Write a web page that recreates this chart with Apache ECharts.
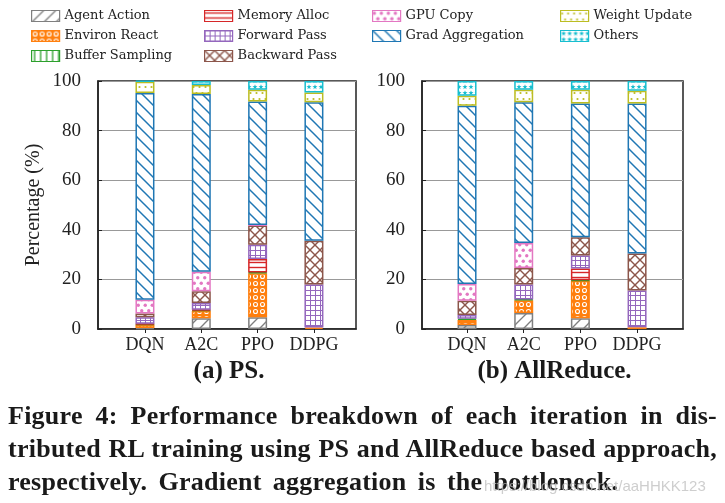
<!DOCTYPE html>
<html><head><meta charset="utf-8">
<script src="https://cdn.jsdelivr.net/npm/echarts@6/dist/echarts.min.js"></script>
<style>
html,body{margin:0;padding:0;background:#fff;}
#chart{width:725px;height:503px;position:absolute;left:0;top:0;}
.cap{position:absolute;left:8px;width:709px;font:bold 26px 'Liberation Serif',serif;letter-spacing:0.25px;color:#1a1a1a;white-space:nowrap;line-height:33px;}
.wm{position:absolute;left:484px;top:477px;font:15px 'Liberation Sans',sans-serif;color:rgba(190,190,190,0.75);white-space:nowrap;}
</style></head><body>
<div id="chart"></div>
<div class="cap" style="top:399px;text-align:justify;text-align-last:justify;">Figure 4: Performance breakdown of each iteration in dis-</div>
<div class="cap" style="top:432px;text-align:justify;text-align-last:justify;">tributed RL training using PS and AllReduce based approach,</div>
<div class="cap" style="top:465px;text-align:left;word-spacing:4.5px;">respectively. Gradient aggregation is the bottleneck.</div>
<div class="wm">https://blog.csdn.net/aaHHKK123</div>
<script>
// ---- data ----
const categories = ['DQN', 'A2C', 'PPO', 'DDPG'];
const seriesNames = ['Agent Action', 'Environ React', 'Buffer Sampling', 'Memory Alloc', 'Forward Pass',
  'Backward Pass', 'GPU Copy', 'Grad Aggregation', 'Weight Update', 'Others'];
const yTicks = [0, 20, 40, 60, 80, 100];
const panelTitles = ['(a) PS.', '(b) AllReduce.'];

// (a) PS — values per category (DQN, A2C, PPO, DDPG), percent
const psAgentAction     = [0.4, 4.3, 4.7, 0];
const psEnvironReact    = [1.3, 3.0, 17.8, 0.6];
const psBufferSampling  = [0.2, 0.3, 0.3, 0];
const psMemoryAlloc     = [0.2, 0.2, 5.4, 0];
const psForwardPass     = [2.6, 2.7, 5.8, 17.3];
const psBackwardPass    = [1.6, 4.7, 7.7, 17.7];
const psGpuCopy         = [5.5, 7.9, 0.2, 0];
const psGradAggregation = [83.4, 71.7, 49.8, 55.8];
const psWeightUpdate    = [4.5, 3.6, 4.8, 4.0];
const psOthers          = [0.3, 1.6, 3.5, 4.6];

// (b) AllReduce
const arAgentAction     = [1.6, 6.5, 4.3, 0];
const arEnvironReact    = [2.1, 5.1, 15.2, 0.7];
const arBufferSampling  = [0.4, 0.3, 0.2, 0];
const arMemoryAlloc     = [0, 0, 4.7, 0];
const arForwardPass     = [1.5, 6.0, 5.2, 14.8];
const arBackwardPass    = [5.8, 6.7, 7.4, 14.9];
const arGpuCopy         = [6.7, 10.1, 0, 0];
const arGradAggregation = [71.9, 56.7, 53.9, 60.5];
const arWeightUpdate    = [4.1, 5.1, 5.6, 5.2];
const arOthers          = [5.9, 3.5, 3.5, 3.9];

const psData = [psAgentAction, psEnvironReact, psBufferSampling, psMemoryAlloc, psForwardPass,
  psBackwardPass, psGpuCopy, psGradAggregation, psWeightUpdate, psOthers];
const arData = [arAgentAction, arEnvironReact, arBufferSampling, arMemoryAlloc, arForwardPass,
  arBackwardPass, arGpuCopy, arGradAggregation, arWeightUpdate, arOthers];

// ---- styles ----
const colors = ['#7f7f7f', '#ff7f0e', '#2ca02c', '#d62728', '#9467bd', '#8c564b', '#e377c2', '#1f77b4', '#bcbd22', '#17becf'];
const SERIF = "'Liberation Serif', 'DejaVu Serif', serif";
const LEG_FONT = "'DejaVu Serif', serif";

function tile(w, h, bg, draw) {
  const c = document.createElement('canvas');
  c.width = w; c.height = h;
  const g = c.getContext('2d');
  g.fillStyle = bg; g.fillRect(0, 0, w, h);
  draw(g);
  return { image: c, repeat: 'repeat' };
}
function ln(g, x1, y1, x2, y2) { g.beginPath(); g.moveTo(x1, y1); g.lineTo(x2, y2); g.stroke(); }
function dot(g, x, y, r) { g.beginPath(); g.arc(x, y, r, 0, Math.PI * 2); g.fill(); }
const patterns = [
  tile(12, 12, '#fff', g => { g.strokeStyle = colors[0]; g.lineWidth = 1.3; ln(g, -1, 13, 13, -1); ln(g, -1, 1, 1, -1); ln(g, 11, 13, 13, 11); }),
  tile(7, 7, colors[1], g => { g.strokeStyle = '#fff'; g.lineWidth = 1.1; g.beginPath(); g.arc(3.5, 3.5, 2, 0, Math.PI * 2); g.stroke(); }),
  tile(6, 6, '#fff', g => { g.strokeStyle = colors[2]; g.lineWidth = 1.3; ln(g, 3, 0, 3, 6); }),
  tile(6, 5, '#fff', g => { g.strokeStyle = colors[3]; g.lineWidth = 1.4; ln(g, 0, 2.5, 6, 2.5); }),
  tile(5, 5, '#fff', g => { g.strokeStyle = colors[4]; g.lineWidth = 1; ln(g, 0.5, 0, 0.5, 5); ln(g, 0, 0.5, 5, 0.5); }),
  tile(10, 10, '#fff', g => { g.strokeStyle = colors[5]; g.lineWidth = 1.4; ln(g, -1, -1, 11, 11); ln(g, -1, 11, 11, -1); }),
  tile(7, 11, '#fff', g => { g.fillStyle = colors[6]; dot(g, 1.75, 2.75, 1.7); dot(g, 5.25, 8.25, 1.7); }),
  tile(12, 12, '#fff', g => { g.strokeStyle = colors[7]; g.lineWidth = 1.5; ln(g, -1, -1, 13, 13); ln(g, 11, -1, 13, 1); ln(g, -1, 11, 1, 13); }),
  tile(6, 12, '#fff', g => { g.fillStyle = colors[8]; dot(g, 1.5, 3, 1.1); dot(g, 4.5, 9, 1.1); }),
  tile(6, 6, '#fff', g => {
    g.fillStyle = colors[9]; g.beginPath();
    for (let i = 0; i < 10; i++) { const r = i % 2 ? 1.1 : 2.7; const a = -Math.PI / 2 + i * Math.PI / 5; const x = 3 + r * Math.cos(a), y = 3 + r * Math.sin(a); i ? g.lineTo(x, y) : g.moveTo(x, y); }
    g.closePath(); g.fill();
  })
];

// frame grids (axes box) and bar grids (category band placement)
const frames = [
  { left: 98, top: 81, width: 258, height: 248 },
  { left: 422, top: 81, width: 261, height: 248 }
];
const barGrids = [
  { left: 116.8, top: 81, width: 225.3, height: 248 },
  { left: 438.7, top: 81, width: 226.7, height: 248 }
];
const yMin = yTicks[0], yMax = yTicks[yTicks.length - 1], yStep = yTicks[1] - yTicks[0];

const option = {
  animation: false,
  backgroundColor: '#fff',
  grid: frames.map(g => Object.assign({ show: true, borderColor: '#222', borderWidth: 1.5, backgroundColor: 'transparent', containLabel: false, outerBoundsMode: 'none' }, g))
    .concat(barGrids.map(g => Object.assign({ show: false, containLabel: false, outerBoundsMode: 'none' }, g))),
  xAxis: [0, 1].map(i => ({
    type: 'value', gridIndex: i, min: 0, max: 1,
    axisLine: { show: true, onZero: false, lineStyle: { color: '#222', width: 1.5 } },
    axisTick: { show: false }, axisLabel: { show: false }, splitLine: { show: false }
  })).concat([2, 3].map(i => ({
    type: 'category', gridIndex: i, data: categories, boundaryGap: true,
    axisLine: { show: false, onZero: false },
    axisTick: { show: true, inside: false, alignWithLabel: true, interval: 0, length: 4, lineStyle: { color: '#222', width: 1 } },
    axisLabel: { show: true, interval: 0, hideOverlap: false, margin: 7, fontFamily: SERIF, fontSize: 18, color: '#222' },
    splitLine: { show: false }
  }))),
  yAxis: [0, 1].map(i => ({
    type: 'value', gridIndex: i, min: yMin, max: yMax, interval: yStep,
    name: i === 0 ? 'Percentage (%)' : '', nameLocation: 'middle', nameGap: 54,
    nameTextStyle: { fontFamily: SERIF, fontSize: 20, color: '#222' },
    axisLine: { show: true, onZero: false, lineStyle: { color: '#222', width: 1.5 } },
    axisTick: { show: true, inside: true, length: 4, lineStyle: { color: '#222' } },
    axisLabel: { fontFamily: SERIF, fontSize: 19, color: '#222', margin: 17 },
    splitLine: { show: true, lineStyle: { color: '#999', width: 1 } }
  })).concat([2, 3].map(i => ({
    type: 'value', gridIndex: i, min: yMin, max: yMax, interval: yStep, show: false,
    splitLine: { show: false }
  }))),
  legend: [
    [31, ['Agent Action', 'Environ React', 'Buffer Sampling']],
    [204, ['Memory Alloc', 'Forward Pass', 'Backward Pass']],
    [372, ['GPU Copy', 'Grad Aggregation']],
    [560, ['Weight Update', 'Others']]
  ].map(([left, names]) => ({
    left: left, top: 9, orient: 'vertical', data: names, icon: 'rect', selectedMode: false,
    itemWidth: 28, itemHeight: 11, itemGap: 6, padding: 0,
    itemStyle: { borderWidth: 1.2 },
    textStyle: { fontFamily: LEG_FONT, fontSize: 13, color: '#222', lineHeight: 14 }
  })),
  graphic: panelTitles.map((t, i) => ({
    type: 'text', x: frames[i].left + frames[i].width / 2 + 2, y: 372,
    style: { text: t, fontFamily: SERIF, fontWeight: 'bold', fontSize: 25, fill: '#1a1a1a', align: 'center', verticalAlign: 'middle' }
  })),
  series: []
};

[psData, arData].forEach((dataSet, gi) => {
  dataSet.forEach((vals, si) => {
    option.series.push({
      type: 'bar', name: seriesNames[si], xAxisIndex: gi + 2, yAxisIndex: gi + 2, stack: 'panel' + gi,
      barWidth: 19,
      itemStyle: { color: patterns[si], borderColor: colors[si], borderWidth: 1.5 },
      emphasis: { disabled: true },
      data: vals.map(v => (v === 0 ? null : v))
    });
  });
});

const chart = echarts.init(document.getElementById('chart'), null, { renderer: 'canvas' });
chart.setOption(option);
</script>
</body></html>
